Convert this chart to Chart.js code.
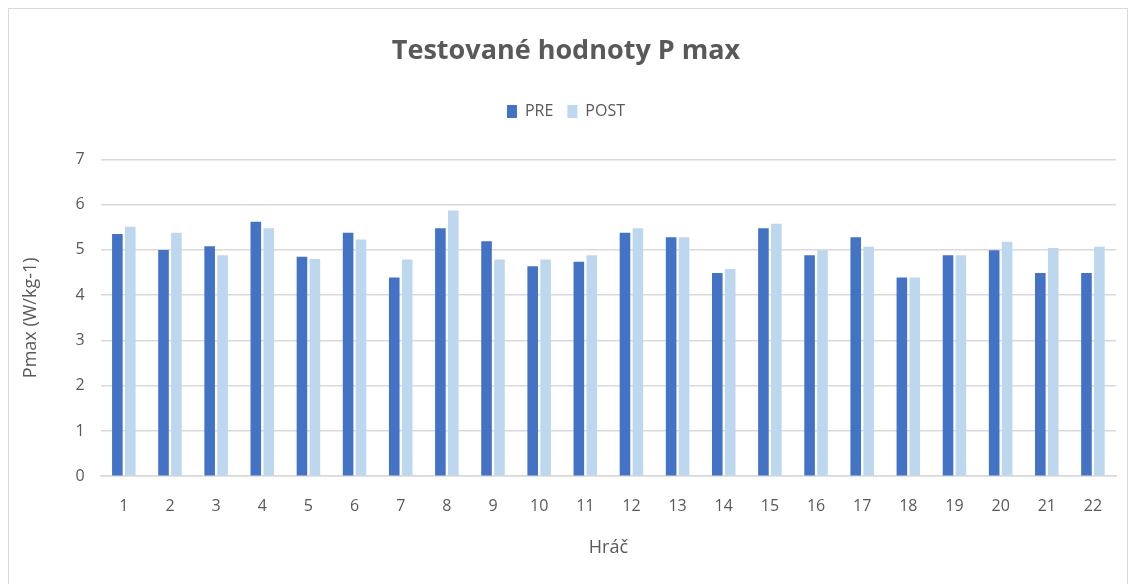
<!DOCTYPE html>
<html>
<head>
<meta charset="utf-8">
<script src="https://cdn.jsdelivr.net/npm/chart.js@4/dist/chart.umd.min.js"></script>
<style>
  body { margin:0; background:#fff; }
  #box { position:absolute; left:8px; top:8px; width:1120px; height:590px; border:1px solid #d9d9d9; box-sizing:border-box; }
  #wrap { position:absolute; left:0; top:0; width:1118px; height:576px; }
</style>
</head>
<body>
<div id="box"><div id="wrap"><canvas id="barChart"></canvas></div></div>
<script>
var players = ["1","2","3","4","5","6","7","8","9","10","11","12","13","14","15","16","17","18","19","20","21","22"];
var preValues  = [5.35, 5.0, 5.08, 5.62, 4.85, 5.38, 4.39, 5.48, 5.19, 4.64, 4.74, 5.38, 5.28, 4.49, 5.48, 4.88, 5.28, 4.39, 4.88, 4.99, 4.49, 4.49];
var postValues = [5.51, 5.38, 4.88, 5.48, 4.8, 5.23, 4.79, 5.87, 4.79, 4.79, 4.88, 5.48, 5.28, 4.58, 5.58, 4.99, 5.07, 4.39, 4.88, 5.18, 5.04, 5.07];
var yTicks = [0,1,2,3,4,5,6,7];

var fontName = "'Open Sans', sans-serif";

// push plot area down a bit below the legend
const legendGap = {
    id: 'legendGap',
    beforeInit: function(chart) {
        const fitOrig = chart.legend.fit;
        chart.legend.fit = function() {
            fitOrig.bind(chart.legend)();
            this.height += 30;
        };
    }
};

const ctx = document.getElementById('barChart').getContext('2d');
new Chart(ctx, {
    type: 'bar',
    data: {
        labels: players,
        datasets: [
            {
                label: "PRE",
                data: preValues,
                backgroundColor: '#4472C4',
                borderWidth: 0,
                barPercentage: 0.82,
                categoryPercentage: 0.56
            },
            {
                label: "POST",
                data: postValues,
                backgroundColor: '#BDD7EE',
                borderWidth: 0,
                barPercentage: 0.82,
                categoryPercentage: 0.56
            }
        ]
    },
    options: {
        responsive: true,
        maintainAspectRatio: false,
        animation: false,
        layout: { padding: { left: 7, right: 11, top: 18, bottom: 22 } },
        plugins: {
            title: {
                display: true,
                text: "Testované hodnoty P max",
                color: '#595959',
                font: { family: fontName, size: 27, weight: 'bold' },
                padding: { top: 8, bottom: 22 }
            },
            legend: {
                display: true,
                labels: {
                    color: '#595959',
                    font: { family: fontName, size: 16 },
                    boxWidth: 10,
                    boxHeight: 13,
                    padding: 14
                }
            },
            tooltip: { enabled: false }
        },
        scales: {
            y: {
                min: 0,
                max: 7,
                afterBuildTicks: function(axis) { axis.ticks = yTicks.map(function(v){ return {value: v}; }); },
                grid: { color: '#d9d9d9', lineWidth: 1.5, drawTicks: false },
                border: { display: false },
                ticks: { color: '#595959', font: { family: fontName, size: 16 }, padding: 16 },
                title: {
                    display: true,
                    text: "Pmax (W/kg-1)",
                    color: '#595959',
                    font: { family: fontName, size: 18 },
                    padding: { bottom: 18 }
                }
            },
            x: {
                grid: { display: false, drawTicks: false },
                border: { display: true, color: '#d9d9d9', width: 1.5 },
                ticks: { color: '#595959', font: { family: fontName, size: 16 }, padding: 21 },
                title: {
                    display: true,
                    text: "Hráč",
                    color: '#595959',
                    font: { family: fontName, size: 18 },
                    padding: { top: 0 }
                }
            }
        }
    },
    plugins: [legendGap]
});
</script>
</body>
</html>
